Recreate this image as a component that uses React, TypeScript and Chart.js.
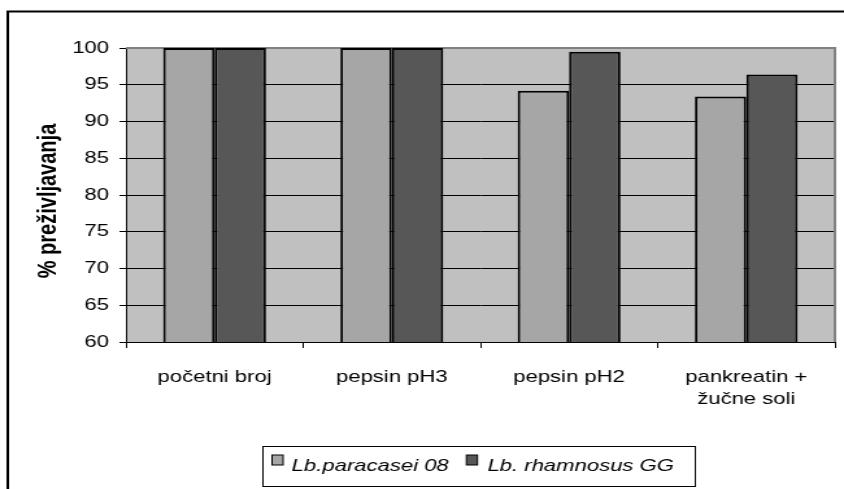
import React, { useEffect, useRef } from 'react';
import { Chart, registerables } from 'chart.js';

Chart.register(...registerables);

// ---- data ----
const categories: (string | string[])[] = [
  'početni broj',
  'pepsin pH3',
  'pepsin pH2',
  ['pankreatin +', 'žučne soli'],
];
const seriesNames = ['Lb.paracasei 08', 'Lb. rhamnosus GG'];
const paracaseiValues = [100, 100, 94.2, 93.4];
const rhamnosusValues = [100, 100, 99.5, 96.4];
const yMin = 60;
const yMax = 100;
const yStep = 5;
const yTitle = '% preživljavanja';

// ---- styling ----
const FONT = '"Liberation Sans", Arial, sans-serif';
const CANVAS_W = 650; // canvas drawn narrower, then stretched to 844 px like the source image
const CANVAS_H = 489;
const DISPLAY_W = 844;

const framePlugin = {
  id: 'frame',
  beforeDraw(chart: any) {
    const { ctx, chartArea: a } = chart;
    ctx.save();
    ctx.fillStyle = '#ffffff';
    ctx.fillRect(0, 0, chart.width, chart.height);
    // outer frame (top + left visible)
    ctx.strokeStyle = '#000';
    ctx.lineWidth = 2;
    ctx.beginPath();
    ctx.moveTo(6, chart.height + 5);
    ctx.lineTo(6, 11.5);
    ctx.lineTo(chart.width + 5, 11.5);
    ctx.stroke();
    // plot area background
    ctx.fillStyle = '#C0C0C0';
    ctx.fillRect(a.left, a.top, a.right - a.left, a.bottom - a.top);
    ctx.restore();
  },
  beforeDatasetsDraw(chart: any) {
    const { ctx, chartArea: a } = chart;
    ctx.save();
    ctx.strokeStyle = '#808080';
    ctx.lineWidth = 2;
    ctx.beginPath();
    ctx.moveTo(a.left, a.top);
    ctx.lineTo(a.right, a.top);
    ctx.lineTo(a.right, a.bottom);
    ctx.stroke();
    ctx.restore();
  },
  afterDraw(chart: any) {
    const { ctx, chartArea: a } = chart;
    ctx.save();
    // y axis title
    ctx.translate(37.2, (a.top + a.bottom) / 2 + 6);
    ctx.rotate(-Math.PI / 2);
    ctx.font = `bold 20px ${FONT}`;
    ctx.fillStyle = '#000';
    ctx.textAlign = 'center';
    ctx.textBaseline = 'middle';
    ctx.fillText(yTitle, 0, 0);
    ctx.restore();

    // legend box
    ctx.save();
    const bx = 202.5, by = 446.5, bw = 333, bh = 40;
    ctx.strokeStyle = '#000';
    ctx.lineWidth = 1;
    ctx.strokeRect(bx, by, bw, bh);
    const items = chart.data.datasets.map((d: any) => ({ label: d.label, color: d.backgroundColor }));
    const markerX = [209.5, 359.2];
    const textX = [224.6, 375.4];
    ctx.font = `italic 17px ${FONT}`;
    ctx.textBaseline = 'alphabetic';
    ctx.textAlign = 'left';
    items.forEach((it: any, i: number) => {
      ctx.fillStyle = it.color;
      ctx.fillRect(markerX[i], 455, 8.5, 10);
      ctx.strokeStyle = '#000';
      ctx.strokeRect(markerX[i], 455, 8.5, 10);
      ctx.fillStyle = '#000';
      ctx.fillText(it.label, textX[i], 471);
    });
    ctx.restore();
  },
};

export default function App() {
  const ref = useRef<HTMLCanvasElement | null>(null);

  useEffect(() => {
    if (!ref.current) return;
    const chart = new Chart(ref.current, {
      type: 'bar',
      data: {
        labels: categories,
        datasets: [
          {
            label: seriesNames[0],
            data: paracaseiValues,
            backgroundColor: '#A6A6A6',
            borderColor: '#000',
            borderWidth: 2,
            categoryPercentage: 0.58,
            barPercentage: 1,
          },
          {
            label: seriesNames[1],
            data: rhamnosusValues,
            backgroundColor: '#575757',
            borderColor: '#000',
            borderWidth: 2,
            categoryPercentage: 0.58,
            barPercentage: 1,
          },
        ],
      },
      options: {
        responsive: false,
        animation: false,
        devicePixelRatio: 1,
        layout: { padding: { left: 0, right: 7, top: 48, bottom: 0 } },
        plugins: {
          legend: { display: false },
          tooltip: { enabled: false },
          title: { display: false },
        },
        scales: {
          x: {
            type: 'category',
            grid: {
              display: true,
              drawOnChartArea: false,
              drawTicks: true,
              tickLength: 6,
              color: '#000',
              offset: true,
              lineWidth: 1,
            },
            border: { display: true, color: '#000', width: 1 },
            ticks: {
              color: '#000',
              font: { family: FONT, size: 17, lineHeight: 1.25 },
              padding: 19,
              maxRotation: 0,
              minRotation: 0,
              autoSkip: false,
            },
            afterFit: (s: any) => {
              s.height = CANVAS_H - 342;
            },
          },
          y: {
            min: yMin,
            max: yMax,
            ticks: {
              stepSize: yStep,
              color: '#000',
              font: { family: FONT, size: 17 },
              padding: 8,
            },
            grid: { color: '#000', lineWidth: 1, tickLength: 5, drawTicks: true },
            border: { display: true, color: '#000', width: 1 },
            afterFit: (s: any) => {
              s.width = 97;
            },
          },
        },
      },
      plugins: [framePlugin],
    });
    return () => chart.destroy();
  }, []);

  return (
    <div style={{ position: 'absolute', left: 0, top: 0, width: DISPLAY_W, height: CANVAS_H, background: '#fff' }}>
      <canvas
        ref={ref}
        width={CANVAS_W}
        height={CANVAS_H}
        style={{ width: `${DISPLAY_W}px`, height: `${CANVAS_H}px`, display: 'block' }}
      />
    </div>
  );
}
